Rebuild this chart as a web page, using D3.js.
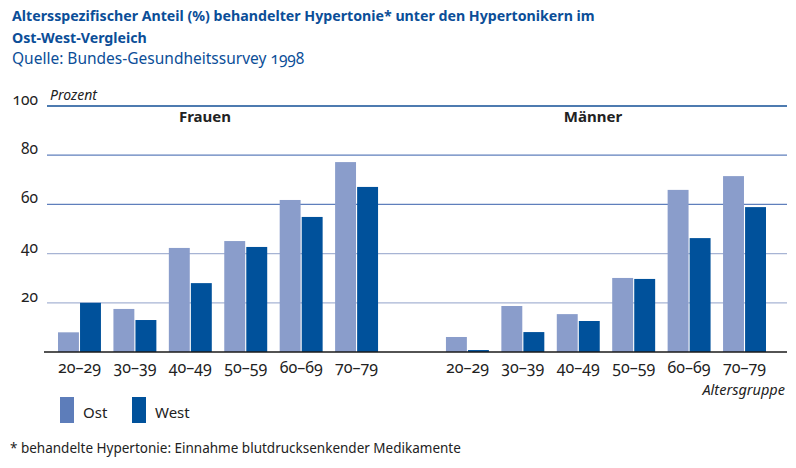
<!DOCTYPE html>
<html>
<head>
<meta charset="utf-8">
<script src="https://cdn.jsdelivr.net/npm/d3@7"></script>
<style>
  body { margin: 0; background: #fff; }
  svg { display: block; font-family: 'Noto Sans', sans-serif; }
  .num { font-feature-settings: 'onum'; }
</style>
</head>
<body>
<div id="chart"></div>
<script>
const panels = ['Frauen', 'Männer']
const ageGroups = ['20–29', '30–39', '40–49', '50–59', '60–69', '70–79']
const regions = ['Ost', 'West']
const ostValues = {
  Frauen: [8, 17.5, 42.3, 45.1, 61.8, 77.2],
  Männer: [6.1, 18.7, 15.4, 30.1, 65.9, 71.5],
}
const westValues = {
  Frauen: [20, 13, 28, 42.7, 54.9, 67.1],
  Männer: [0.8, 8.1, 12.6, 29.7, 46.3, 58.9],
}
const yTicks = [20, 40, 60, 80, 100]

const width = 796
const height = 468
const blue = '#0b4e98'
const barColor = d3.scaleOrdinal(regions, ['#8a9dcb', '#00519b'])
const legendColor = d3.scaleOrdinal(regions, ['#5d7dba', '#00519b'])

const svg = d3
  .select('#chart')
  .append('svg')
  .attr('width', width)
  .attr('height', height)

// titles
const title = svg.append('g').attr('fill', blue)
title
  .append('text')
  .attr('x', 12)
  .attr('y', 21)
  .attr('font-size', 14.2)
  .attr('font-weight', 'bold')
  .text('Altersspezifischer Anteil (%) behandelter Hypertonie* unter den Hypertonikern im')
title
  .append('text')
  .attr('x', 12)
  .attr('y', 43)
  .attr('font-size', 14.2)
  .attr('font-weight', 'bold')
  .text('Ost-West-Vergleich')
title
  .append('text')
  .attr('x', 12)
  .attr('y', 64)
  .attr('font-size', 15.5)
  .attr('class', 'num')
  .text('Quelle: Bundes-Gesundheitssurvey 1998')

// scales
const slots = d3.range(panels.length * (ageGroups.length + 1) - 1)
const xSlot = d3.scaleBand().domain(slots).range([58, 766]).paddingInner(0.225)
const xRegion = d3
  .scaleBand()
  .domain(regions)
  .range([0, xSlot.bandwidth()])
  .paddingInner(0.05)
const yScale = d3.scaleLinear().domain([0, 100]).range([352, 106])

const slotOf = (pi, ai) => pi * (ageGroups.length + 1) + ai

// grid
const gridColor = d => (d === 100 ? '#124f96' : d >= 60 ? '#5f7fbc' : '#a7b4d4')
svg
  .append('g')
  .selectAll('line')
  .data(yTicks)
  .join('line')
  .attr('x1', 47)
  .attr('x2', 787)
  .attr('y1', d => yScale(d))
  .attr('y2', d => yScale(d))
  .attr('stroke', gridColor)
  .attr('stroke-width', d => (d === 100 ? 1.4 : 1.2))

svg
  .append('g')
  .attr('fill', '#222')
  .attr('font-size', 15.5)
  .attr('class', 'num')
  .attr('text-anchor', 'end')
  .selectAll('text')
  .data(yTicks)
  .join('text')
  .attr('x', 38)
  .attr('y', d => yScale(d) - 1)
  .text(d => d)

svg
  .append('text')
  .attr('x', 50)
  .attr('y', 100)
  .attr('font-size', 14)
  .attr('font-style', 'italic')
  .attr('fill', '#222')
  .text('Prozent')

// bars
const rows = panels.flatMap((p, pi) =>
  ageGroups.flatMap((a, ai) => [
    { panel: p, age: a, region: 'Ost', value: ostValues[p][ai], slot: slotOf(pi, ai) },
    { panel: p, age: a, region: 'West', value: westValues[p][ai], slot: slotOf(pi, ai) },
  ]),
)

svg
  .append('g')
  .selectAll('rect')
  .data(rows)
  .join('rect')
  .attr('x', d => xSlot(d.slot) + xRegion(d.region))
  .attr('y', d => yScale(d.value))
  .attr('width', xRegion.bandwidth())
  .attr('height', d => yScale(0) - yScale(d.value))
  .attr('fill', d => barColor(d.region))

// baseline
svg
  .append('line')
  .attr('x1', 44)
  .attr('x2', 787)
  .attr('y1', yScale(0))
  .attr('y2', yScale(0))
  .attr('stroke', '#1a1a1a')
  .attr('stroke-width', 1.6)

// panel labels
svg
  .append('g')
  .attr('font-size', 15)
  .attr('font-weight', 'bold')
  .attr('fill', '#222')
  .attr('text-anchor', 'middle')
  .selectAll('text')
  .data(panels)
  .join('text')
  .attr('x', (d, pi) => {
    const a = xSlot(slotOf(pi, 0))
    const b = xSlot(slotOf(pi, ageGroups.length - 1)) + xSlot.bandwidth()
    return (a + b) / 2 - 13
  })
  .attr('y', 122)
  .text(d => d)

// x tick labels
svg
  .append('g')
  .attr('font-size', 16)
  .attr('class', 'num')
  .attr('fill', '#222')
  .attr('text-anchor', 'middle')
  .selectAll('text')
  .data(panels.flatMap((p, pi) => ageGroups.map((a, ai) => ({ a, slot: slotOf(pi, ai) }))))
  .join('text')
  .attr('x', d => xSlot(d.slot) + xSlot.bandwidth() / 2)
  .attr('y', 373)
  .text(d => d.a)

svg
  .append('text')
  .attr('x', 785)
  .attr('y', 395)
  .attr('text-anchor', 'end')
  .attr('font-size', 14.5)
  .attr('font-style', 'italic')
  .attr('fill', '#222')
  .text('Altersgruppe')

// legend
const legend = svg
  .append('g')
  .selectAll('g')
  .data(regions)
  .join('g')
  .attr('transform', (d, i) => `translate(${60 + i * 72},397)`)
legend
  .append('rect')
  .attr('width', 14)
  .attr('height', 26)
  .attr('fill', d => legendColor(d))
legend
  .append('text')
  .attr('x', 23)
  .attr('y', 21)
  .attr('font-size', 15)
  .attr('fill', '#222')
  .text(d => d)

// footnote
svg
  .append('text')
  .attr('x', 10)
  .attr('y', 453)
  .attr('font-size', 13.5)
  .attr('fill', '#222')
  .text('* behandelte Hypertonie: Einnahme blutdrucksenkender Medikamente')
</script>
</body>
</html>
